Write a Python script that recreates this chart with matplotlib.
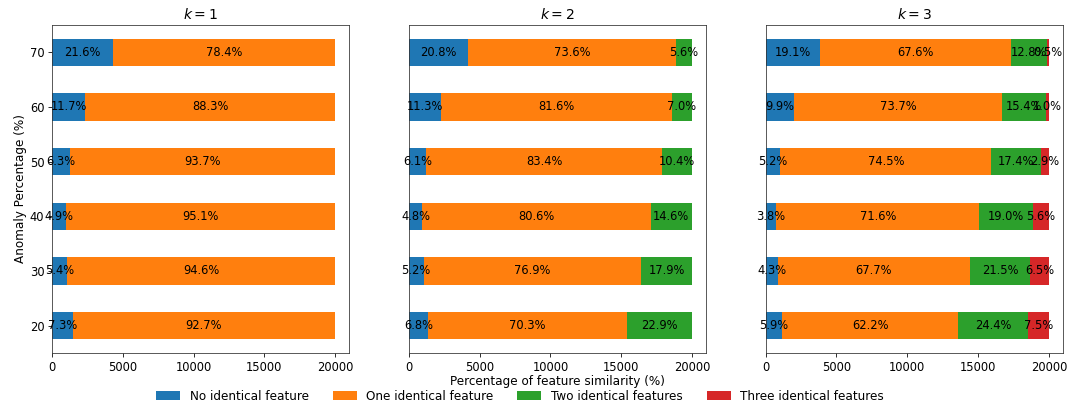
import numpy as np
import matplotlib
matplotlib.use("Agg")
import matplotlib.pyplot as plt

anomaly_pct = [20, 30, 40, 50, 60, 70]
series_names = ["No identical feature", "One identical feature",
                "Two identical features", "Three identical features"]
colors = ["#1f77b4", "#ff7f0e", "#2ca02c", "#d62728"]
total = 20000

# percentage shares per k, rows follow anomaly_pct
k1_none = [7.3, 5.4, 4.9, 6.3, 11.7, 21.6]
k1_one = [92.7, 94.6, 95.1, 93.7, 88.3, 78.4]
k1_two = [0, 0, 0, 0, 0, 0]
k1_three = [0, 0, 0, 0, 0, 0]

k2_none = [6.8, 5.2, 4.8, 6.1, 11.3, 20.8]
k2_one = [70.3, 76.9, 80.6, 83.4, 81.6, 73.6]
k2_two = [22.9, 17.9, 14.6, 10.4, 7.0, 5.6]
k2_three = [0, 0, 0, 0, 0, 0]

k3_none = [5.9, 4.3, 3.8, 5.2, 9.9, 19.1]
k3_one = [62.2, 67.7, 71.6, 74.5, 73.7, 67.6]
k3_two = [24.4, 21.5, 19.0, 17.4, 15.4, 12.8]
k3_three = [7.5, 6.5, 5.6, 2.9, 1.0, 0.5]

panels = [
    (1, [k1_none, k1_one, k1_two, k1_three]),
    (2, [k2_none, k2_one, k2_two, k2_three]),
    (3, [k3_none, k3_one, k3_two, k3_three]),
]

plt.rcParams.update({
    "font.size": 12,
    "xtick.labelsize": 11.5,
    "ytick.labelsize": 11.5,
    "xtick.major.size": 4.2,
    "ytick.major.size": 4.2,
    "axes.edgecolor": "#333333",
})

fig, axes = plt.subplots(1, 3, figsize=(1068 / 72, 409 / 72), dpi=72)
fig.subplots_adjust(left=0.0487, right=0.9953, top=0.939, bottom=0.137, wspace=0.2)

y = np.arange(len(anomaly_pct))
handles = []
for i, (ax, (k, shares)) in enumerate(zip(axes, panels)):
    left = np.zeros(len(anomaly_pct))
    for name, color, pct in zip(series_names, colors, shares):
        pct = np.array(pct, dtype=float)
        counts = pct / 100.0 * total
        bars = ax.barh(y, counts, height=0.5, left=left, color=color, label=name)
        labels = [f"{p:.1f}%" if p > 0 else "" for p in pct]
        ax.bar_label(bars, labels=labels, label_type="center", fontsize=11.5)
        left += counts
        if i == 0:
            handles.append(bars)
    ax.set_title(f"$k = {k}$", fontsize=14)
    ax.set_xlim(0, total * 1.05)
    ax.set_ylim(-0.5, len(anomaly_pct) - 0.5)
    ax.set_xticks([0, 5000, 10000, 15000, 20000])
    if i == 0:
        ax.set_yticks(y)
        ax.set_yticklabels([str(a) for a in anomaly_pct])
        ax.set_ylabel("Anomaly Percentage (%)", labelpad=3)
    else:
        ax.set_yticks([])
    if i == 1:
        ax.set_xlabel("Percentage of feature similarity (%)", labelpad=1)

fig.legend(handles, series_names, loc="center", ncol=4, frameon=False,
           bbox_to_anchor=(520 / 1068, 1 - 396 / 409), columnspacing=2.0,
           handlelength=2.0, borderpad=0.2)

fig.savefig("out.png", dpi=72)
